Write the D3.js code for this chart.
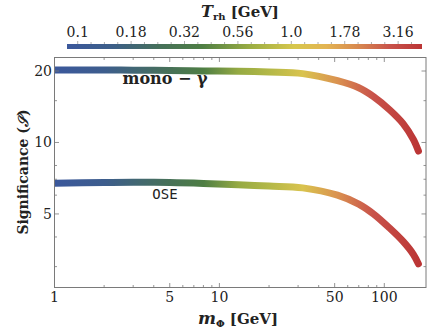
<!DOCTYPE html>
<html>
<head>
<meta charset="utf-8">
<script src="https://cdn.jsdelivr.net/npm/d3@7"></script>
<style>
  body { margin: 0; background: #fff; }
  svg { display: block; }
</style>
</head>
<body>
<svg id="chart" width="440" height="330"></svg>
<script>
// --- data -----------------------------------------------------------------
const mPhi    = [1, 2, 3, 5, 8, 13, 20, 32, 52, 70, 86, 108, 130, 150, 161];
const sigMono = [20.2, 20.2, 20.15, 20.1, 20.0, 19.95, 19.8, 19.5, 18.2, 17.0, 15.6, 13.7, 12.0, 10.3, 9.2];
const sigOSE  = [6.73, 6.78, 6.8, 6.78, 6.72, 6.63, 6.55, 6.44, 6.0, 5.5, 5.0, 4.35, 3.83, 3.38, 3.08];
const Trh     = [0.09, 0.13, 0.18, 0.25, 0.38, 0.62, 0.78, 1.1, 1.9, 2.5, 2.9, 3.3, 3.6, 3.9, 4.09];

const xMajor = [1, 5, 10, 50, 100];
const xMinor = [2, 3, 4, 6, 7, 8, 9, 20, 30, 40, 60, 70, 80, 90];
const yMajor = [5, 10, 20];
const yMinor = [3, 4, 6, 7, 8, 15];
const cbLabelValues = [0.1, 0.178, 0.316, 0.562, 1.0, 1.78, 3.16];
const cbLabels      = ["0.1", "0.18", "0.32", "0.56", "1.0", "1.78", "3.16"];

// DarkRainbow-like gradient (fraction along the bar -> colour)
const cbStops = [
  [0.00, "#3b589c"], [0.13, "#3d5f88"], [0.26, "#46705a"], [0.38, "#4e7e44"],
  [0.52, "#9cae43"], [0.64, "#d7c74d"], [0.73, "#e3b452"], [0.83, "#d6834f"],
  [0.91, "#c8524a"], [1.00, "#bb3535"],
];

const SERIF = "DejaVu Serif";
const MONO = "DejaVu Sans Mono";
const INK = "#222";
const svg = d3.select("#chart");
const M = { left: 54.5, right: 426, top: 57.5, bottom: 287.5 };

const x = d3.scaleLog().domain([1, 179]).range([M.left, M.right]);
const y = d3.scaleLog().domain([2.45, 22.8]).range([M.bottom, M.top]);

// colour bar
const cb = { x0: 67, x1: 422, y: 44, h: 5 };
const cbScale = d3.scaleLog().domain([0.0891, 4.09]).range([cb.x0, cb.x1]);
const stopColor = d3.scaleLinear()
  .domain(cbStops.map((d) => d[0])).range(cbStops.map((d) => d[1]))
  .interpolate(d3.interpolateRgb).clamp(true);
const colorFor = (t) => stopColor((cbScale(t) - cb.x0) / (cb.x1 - cb.x0));

const defs = svg.append("defs");
const cbGrad = defs.append("linearGradient").attr("id", "cbgrad");
cbGrad.selectAll("stop").data(cbStops).join("stop")
  .attr("offset", (d) => d[0]).attr("stop-color", (d) => d[1]);

svg.append("rect")
  .attr("x", cb.x0).attr("y", cb.y).attr("width", cb.x1 - cb.x0).attr("height", cb.h)
  .attr("fill", "url(#cbgrad)");

// colour-bar ticks: every 1/16 decade, labelled every 4th
const cbTicks = d3.range(0, 26).map((k) => Math.pow(10, -1 + k / 16));
svg.append("g").selectAll("line").data(cbTicks).join("line")
  .attr("x1", (d) => cbScale(d)).attr("x2", (d) => cbScale(d))
  .attr("y1", (d, i) => cb.y - (i % 4 === 0 ? 3 : 2)).attr("y2", cb.y)
  .attr("stroke", "#999").attr("stroke-width", 0.8);

svg.append("g").selectAll("text").data(cbLabelValues).join("text")
  .attr("x", (d) => cbScale(d)).attr("y", 37)
  .attr("font-family", SERIF)
  .attr("text-anchor", "middle").attr("font-size", 14).attr("fill", INK)
  .text((d, i) => cbLabels[i]);

const tTitle = svg.append("text").attr("x", 240).attr("y", 17).attr("font-family", SERIF)
  .attr("text-anchor", "middle").attr("font-size", 15).attr("font-weight", "bold").attr("fill", INK);
tTitle.append("tspan").attr("font-style", "italic").attr("font-size", 16).text("T");
tTitle.append("tspan").attr("font-size", 10).attr("dy", 3).text("rh");
tTitle.append("tspan").attr("dy", -3).text(" [GeV]");

// --- curves ---------------------------------------------------------------
// colour along each curve follows T_rh at that mass: horizontal gradient
const lineGrad = defs.append("linearGradient").attr("id", "linegrad")
  .attr("gradientUnits", "userSpaceOnUse")
  .attr("x1", x(mPhi[0])).attr("x2", x(mPhi[mPhi.length - 1]))
  .attr("y1", 0).attr("y2", 0);
const span = x(mPhi[mPhi.length - 1]) - x(mPhi[0]);
lineGrad.selectAll("stop").data(mPhi).join("stop")
  .attr("offset", (d) => (x(d) - x(mPhi[0])) / span)
  .attr("stop-color", (d, i) => colorFor(Trh[i]));

defs.append("clipPath").attr("id", "plotclip").append("rect")
  .attr("x", M.left).attr("y", M.top).attr("width", M.right - M.left).attr("height", M.bottom - M.top);

const line = d3.line().x((d) => x(d[0])).y((d) => y(d[1])).curve(d3.curveCatmullRom.alpha(0.5));
const curves = [sigMono, sigOSE].map((s) => mPhi.map((m, i) => [m, s[i]]));

svg.append("g").attr("clip-path", "url(#plotclip)")
  .selectAll("path").data(curves).join("path")
  .attr("d", line)
  .attr("fill", "none")
  .attr("stroke", "url(#linegrad)")
  .attr("stroke-width", 7)
  .attr("stroke-linecap", "round")
  .attr("stroke-linejoin", "round");

// --- frame & ticks --------------------------------------------------------
const frameColor = "#7a7a7a";
svg.append("rect")
  .attr("x", M.left).attr("y", M.top).attr("width", M.right - M.left).attr("height", M.bottom - M.top)
  .attr("fill", "none").attr("stroke", frameColor).attr("stroke-width", 1);

const tickG = svg.append("g").attr("stroke", frameColor).attr("stroke-width", 0.8);
const xt = xMajor.map((v) => [v, 4.5]).concat(xMinor.map((v) => [v, 2.5]));
const yt = yMajor.map((v) => [v, 4.5]).concat(yMinor.map((v) => [v, 2.5]));
tickG.selectAll("line.xb").data(xt).join("line").attr("class", "xb")
  .attr("x1", (d) => x(d[0])).attr("x2", (d) => x(d[0]))
  .attr("y1", M.bottom).attr("y2", (d) => M.bottom - d[1]);
tickG.selectAll("line.xt").data(xt).join("line").attr("class", "xt")
  .attr("x1", (d) => x(d[0])).attr("x2", (d) => x(d[0]))
  .attr("y1", M.top).attr("y2", (d) => M.top + d[1]);
tickG.selectAll("line.yl").data(yt).join("line").attr("class", "yl")
  .attr("y1", (d) => y(d[0])).attr("y2", (d) => y(d[0]))
  .attr("x1", M.left).attr("x2", (d) => M.left + d[1]);
tickG.selectAll("line.yr").data(yt).join("line").attr("class", "yr")
  .attr("y1", (d) => y(d[0])).attr("y2", (d) => y(d[0]))
  .attr("x1", M.right).attr("x2", (d) => M.right - d[1]);

svg.append("g").selectAll("text").data(xMajor).join("text")
  .attr("x", (d) => x(d)).attr("y", 302).attr("font-family", SERIF)
  .attr("text-anchor", "middle").attr("font-size", 14).attr("fill", INK)
  .text((d) => d);

svg.append("g").selectAll("text").data(yMajor).join("text")
  .attr("x", 52).attr("y", (d) => y(d) + 5).attr("font-family", SERIF)
  .attr("text-anchor", "end").attr("font-size", 14).attr("fill", INK)
  .text((d) => d);

// axis titles
const xTitle = svg.append("text").attr("x", 238).attr("y", 324).attr("font-family", SERIF)
  .attr("text-anchor", "middle").attr("font-size", 15).attr("font-weight", "bold").attr("fill", INK);
xTitle.append("tspan").attr("font-style", "italic").attr("font-size", 17).text("m");
xTitle.append("tspan").attr("font-size", 10).attr("dy", 3).text("Φ");
xTitle.append("tspan").attr("dy", -3).text("  [GeV]");

const yTitle = svg.append("text").attr("font-family", SERIF)
  .attr("transform", "translate(28,172) rotate(-90)")
  .attr("text-anchor", "middle").attr("font-size", 14).attr("font-weight", "bold").attr("fill", INK);
yTitle.append("tspan").text("Significance (");
yTitle.append("tspan").attr("font-style", "italic").text("𝒮");
yTitle.append("tspan").text(")");

// curve labels
svg.append("text").attr("x", 165).attr("y", 84).attr("font-family", SERIF)
  .attr("text-anchor", "middle").attr("font-size", 16).attr("font-weight", "bold").attr("fill", INK)
  .text("mono − γ");
svg.append("text").attr("x", 165).attr("y", 199).attr("font-family", MONO)
  .attr("text-anchor", "middle").attr("font-size", 14).attr("fill", INK)
  .text("OSE");
</script>
</body>
</html>
